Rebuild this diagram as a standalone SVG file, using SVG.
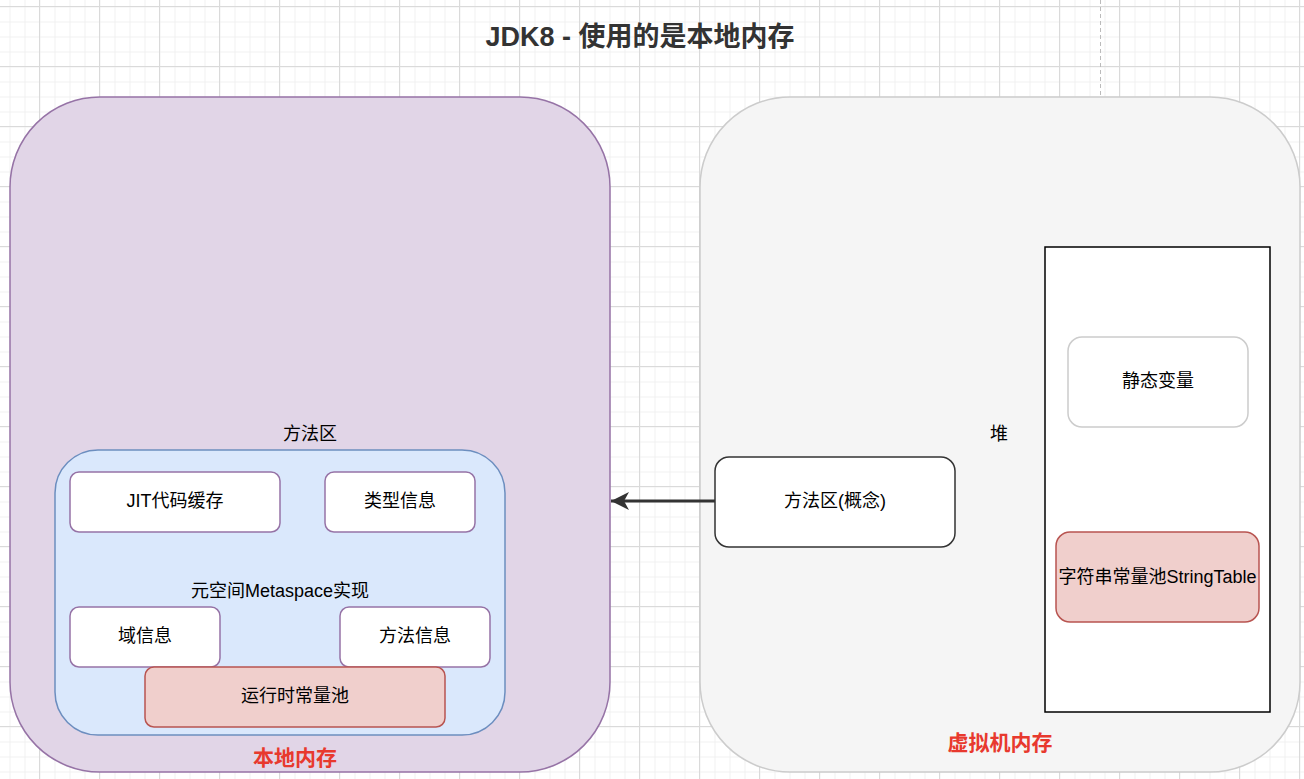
<svg xmlns="http://www.w3.org/2000/svg" width="1304" height="779" viewBox="0 0 1304 779">
<defs>
<pattern id="minor" width="15" height="15" patternUnits="userSpaceOnUse" x="9.5" y="6.5">
<path d="M0 0.5H15M0.5 0V15" fill="none" stroke="#f0f0f0" stroke-width="1"/>
</pattern>
<pattern id="major" width="60" height="60" patternUnits="userSpaceOnUse" x="39" y="6">
<path d="M0 0.5H60M0.5 0V60" fill="none" stroke="#dadada" stroke-width="1"/>
</pattern>
<marker id="arr" markerWidth="20" markerHeight="20" viewBox="0 0 20 20" refX="19" refY="10" orient="auto" markerUnits="userSpaceOnUse">
<path d="M1 1 L19 10 L1 19 L6 10 Z" fill="#333"/>
</marker>
<style>
text{font-family:"Liberation Sans","Noto Sans CJK SC",sans-serif;font-size:18px;fill:#000;text-anchor:middle;dominant-baseline:central}
.title{font-size:27px;font-weight:bold;fill:#333}
.red{fill:#e8392e;font-weight:bold;font-size:21px}
.pbox{fill:#fff;stroke:#9673a6;stroke-width:1.5}
.rbox{fill:#f0cfcc;stroke:#b85450;stroke-width:1.5}
</style>
</defs>
<rect width="1304" height="779" fill="#fff"/>
<rect width="1304" height="779" fill="url(#minor)"/>
<rect width="1304" height="779" fill="url(#major)"/>
<line x1="1100.5" y1="0" x2="1100.5" y2="100" stroke="#bbb" stroke-width="1" stroke-dasharray="4 3"/>
<text class="title" x="640" y="37">JDK8 - 使用的是本地内存</text>

<g id="native">
<rect x="10" y="97" width="600" height="675" rx="90" ry="90" fill="#e1d5e7" stroke="#9673a6" stroke-width="1.5"/>
<text class="red" x="295" y="757">本地内存</text>
</g>
<g id="vm">
<rect x="700" y="97" width="600" height="675" rx="90" ry="90" fill="#f5f5f5" stroke="#cccccc" stroke-width="1.5"/>
<text class="red" x="1000" y="742">虚拟机内存</text>
</g>
<g id="method-area">
<rect x="55" y="450" width="450" height="285" rx="43" ry="43" fill="#dae8fc" stroke="#6c8ebf" stroke-width="1.5"/>
<text x="310" y="434">方法区</text>
<text x="280" y="591">元空间Metaspace实现</text>
</g>
<g id="jit"><rect class="pbox" x="70" y="472" width="210" height="60" rx="9"/><text x="175" y="501">JIT代码缓存</text></g>
<g id="type"><rect class="pbox" x="325" y="472" width="150" height="60" rx="9"/><text x="400" y="501">类型信息</text></g>
<g id="field"><rect class="pbox" x="70" y="607" width="150" height="60" rx="9"/><text x="145" y="636">域信息</text></g>
<g id="method"><rect class="pbox" x="340" y="607" width="150" height="60" rx="9"/><text x="415" y="636">方法信息</text></g>
<g id="rcp"><rect class="rbox" x="145" y="667" width="300" height="60" rx="9"/><text x="295" y="696">运行时常量池</text></g>

<g id="heap">
<rect x="1045" y="247" width="225" height="465" fill="#fff" stroke="#000" stroke-width="1.5"/>
<text x="999" y="434">堆</text>
</g>
<g id="static"><rect x="1068" y="337" width="180" height="90" rx="14" fill="#fff" stroke="#cccccc" stroke-width="1.5"/><text x="1158" y="381">静态变量</text></g>
<g id="stringtable"><rect class="rbox" x="1056" y="532" width="203" height="90" rx="14"/><text x="1157.5" y="577">字符串常量池StringTable</text></g>
<g id="concept"><rect x="715" y="457" width="240" height="90" rx="14" fill="#fff" stroke="#333" stroke-width="1.5"/><text x="835" y="501">方法区(概念)</text></g>

<g id="connectors">
<line x1="715" y1="501" x2="611" y2="501" stroke="#333" stroke-width="3" marker-end="url(#arr)"/>
</g>
</svg>
